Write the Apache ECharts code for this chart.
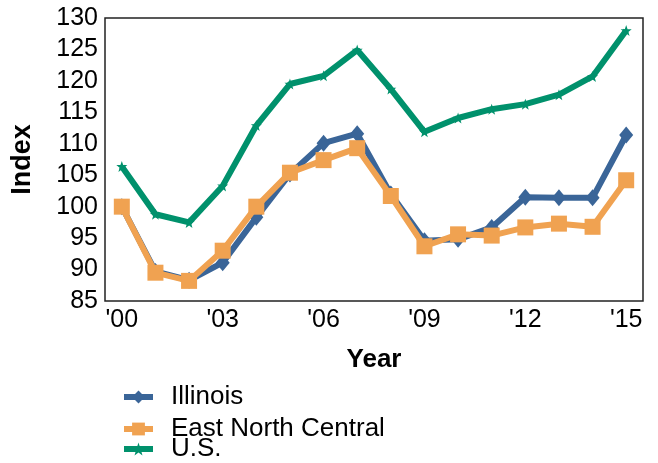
<!DOCTYPE html>
<html>
<head>
<meta charset="utf-8">
<script src="https://cdn.jsdelivr.net/npm/echarts@6/dist/echarts.min.js"></script>
<style>
  html, body { margin: 0; padding: 0; background: #fff; }
  #chart { width: 658px; height: 463px; }
</style>
</head>
<body>
<div id="chart"></div>
<script>
// Index values by year, 2000 = 100
const years = ['2000','2001','2002','2003','2004','2005','2006','2007','2008','2009','2010','2011','2012','2013','2014','2015'];
const yearLabels = ["'00","'01","'02","'03","'04","'05","'06","'07","'08","'09","'10","'11","'12","'13","'14","'15"];
const illinois = [100, 89.7, 88.3, 91.1, 98.3, 105.2, 110.1, 111.6, 102.0, 94.6, 94.8, 96.7, 101.5, 101.4, 101.4, 111.4];
const eastNorthCentral = [100, 89.5, 88.2, 93.0, 100.0, 105.4, 107.4, 109.3, 101.7, 93.7, 95.6, 95.4, 96.7, 97.3, 96.8, 104.2];
const us = [106.4, 98.8, 97.5, 103.3, 112.9, 119.5, 120.8, 124.9, 118.7, 111.9, 114.1, 115.5, 116.3, 117.8, 120.7, 128.0];

const font = 'Liberation Sans, Arial, sans-serif';

// one legend entry per block so each label can sit at its own offset from its key
function legendEntry(name, top, textPadding) {
  return {
    orient: 'vertical',
    left: 116,
    top: top,
    itemWidth: 29,
    itemHeight: 16,
    lineStyle: { width: 6 },
    textStyle: { fontSize: 26, color: '#000', fontFamily: font, padding: textPadding },
    data: [name]
  };
}

const chart = echarts.init(document.getElementById('chart'));
chart.setOption({
  animation: false,
  textStyle: { fontFamily: font },
  grid: { left: 105, right: 15, top: 18, bottom: 162, show: true, borderColor: '#222', borderWidth: 1.5, containLabel: false },
  xAxis: {
    type: 'category',
    data: yearLabels,
    boundaryGap: true,
    name: 'Year',
    nameLocation: 'middle',
    nameGap: 46,
    nameTextStyle: { fontSize: 26, fontWeight: 'bold', color: '#000', fontFamily: font },
    axisLine: { show: false },
    axisTick: { show: false },
    axisLabel: { interval: 2, fontSize: 25, color: '#000', margin: 7, fontFamily: font },
    splitLine: { show: false }
  },
  yAxis: {
    type: 'value',
    min: 85, max: 130, interval: 5,
    name: 'Index',
    nameLocation: 'middle',
    nameGap: 69,
    nameTextStyle: { fontSize: 27, fontWeight: 'bold', color: '#000', fontFamily: font },
    axisLine: { show: false },
    axisTick: { show: false },
    axisLabel: { fontSize: 25, color: '#000', margin: 7, fontFamily: font },
    splitLine: { show: false }
  },
  legend: [
    legendEntry('Illinois', 379, [0, 0, 24, 13]),
    legendEntry('East North Central', 411, [0, 0, 6, 13]),
    legendEntry('U.S.', 431, [12, 0, 0, 13])
  ],
  series: [
    {
      name: 'U.S.', type: 'line', data: us,
      symbol: 'path://M0,-10 L2.4,-3.2 L9.5,-3.1 L3.8,1.2 L5.9,8.1 L0,4 L-5.9,8.1 L-3.8,1.2 L-9.5,-3.1 L-2.4,-3.2 Z',
      symbolSize: 11,
      lineStyle: { width: 6, color: '#00916c' },
      itemStyle: { color: '#00916c' },
      z: 1
    },
    {
      name: 'Illinois', type: 'line', data: illinois,
      symbol: 'diamond', symbolSize: [14, 17],
      lineStyle: { width: 6, color: '#3a6598' },
      itemStyle: { color: '#3a6598' },
      z: 2
    },
    {
      name: 'East North Central', type: 'line', data: eastNorthCentral,
      symbol: 'rect', symbolSize: 16,
      lineStyle: { width: 6, color: '#f0a251' },
      itemStyle: { color: '#f0a251' },
      z: 3
    }
  ]
});
</script>
</body>
</html>
